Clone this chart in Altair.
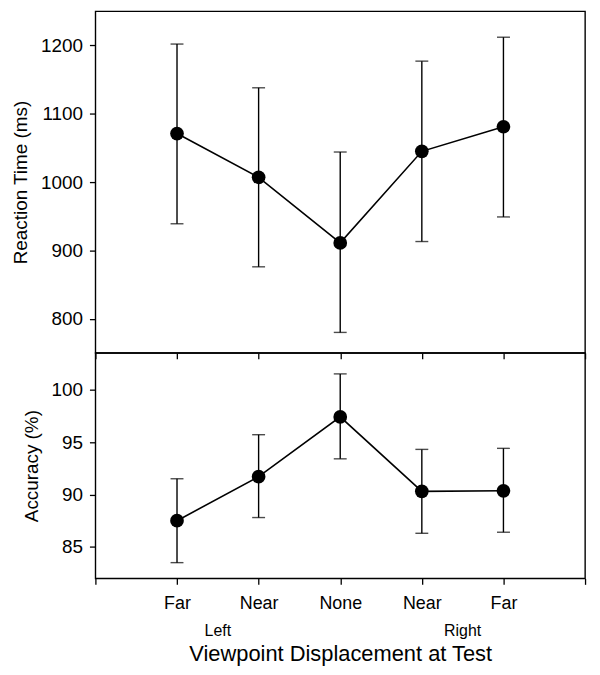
import altair as alt
import pandas as pd

positions = [1, 2, 3, 4, 5]
labels = ["Far", "Near", "None", "Near", "Far"]

rt_mean = [1071, 1007, 911, 1045, 1081]
rt_upper = [1202, 1138, 1044, 1177, 1212]
rt_lower = [939, 876, 780, 913, 949]

acc_mean = [87.5, 91.7, 97.4, 90.3, 90.35]
acc_upper = [91.5, 95.7, 101.5, 94.3, 94.4]
acc_lower = [83.5, 87.8, 93.4, 86.3, 86.4]

side_pos = [1.5, 4.5]
side_text = ["Left", "Right"]

FONT = "Liberation Sans"

rt = pd.DataFrame({"x": positions, "m": rt_mean, "hi": rt_upper, "lo": rt_lower})
acc = pd.DataFrame({"x": positions, "m": acc_mean, "hi": acc_upper, "lo": acc_lower})
sides = pd.DataFrame({"x": side_pos, "t": side_text})

label_expr = ("datum.value == 1 ? 'Far' : datum.value == 2 ? 'Near' : "
              "datum.value == 3 ? 'None' : datum.value == 4 ? 'Near' : "
              "datum.value == 5 ? 'Far' : ''")

W = 493
H1 = 344
H2 = 227


def panel(df, ydom, yticks, ytitle, height, bottom):
    if bottom:
        xaxis = alt.Axis(values=list(range(7)), labelExpr=label_expr, tickSize=6,
                         labelPadding=10, labelFontSize=18, title="Viewpoint Displacement at Test",
                         titleFontSize=22, titleFontWeight="normal", titlePadding=32,
                         grid=False, domain=False, tickColor="black", labelColor="black",
                         titleColor="black", labelFont=FONT, titleFont=FONT, tickWidth=1.3)
    else:
        xaxis = alt.Axis(values=list(range(7)), labels=False, tickSize=6, title=None,
                         grid=False, domain=False, tickColor="black", tickWidth=1.3)
    x = alt.X("x:Q", scale=alt.Scale(domain=[0, 6], nice=False, zero=False), axis=xaxis)
    yscale = alt.Scale(domain=ydom, nice=False, zero=False)
    yaxis = alt.Axis(values=yticks, format="d", tickSize=6, labelPadding=7, labelFontSize=19,
                     title=ytitle, titleFontSize=19, titleFontWeight="normal",
                     titlePadding=10, grid=False, domain=False, tickColor="black",
                     labelColor="black", titleColor="black", labelFont=FONT,
                     titleFont=FONT, tickWidth=1.3)
    base = alt.Chart(df)
    rules = base.mark_rule(color="black", strokeWidth=1.4).encode(
        x=x, y=alt.Y("lo:Q", scale=yscale, axis=yaxis), y2="hi:Q")
    cap_hi = base.mark_tick(orient="horizontal", size=13, thickness=1.4, color="black").encode(
        x="x:Q", y="hi:Q")
    cap_lo = base.mark_tick(orient="horizontal", size=13, thickness=1.4, color="black").encode(
        x="x:Q", y="lo:Q")
    line = base.mark_line(color="black", strokeWidth=1.6).encode(x="x:Q", y="m:Q")
    pts = base.mark_point(filled=True, shape="circle", size=190, color="black", opacity=1).encode(
        x="x:Q", y="m:Q")
    layers = [rules, cap_hi, cap_lo, line, pts]
    if bottom:
        txt = alt.Chart(sides).mark_text(fontSize=16, font=FONT, color="black",
                                         baseline="middle").encode(
            x="x:Q", y=alt.value(height + 53), text="t:N")
        layers.append(txt)
    return alt.layer(*layers).properties(width=W, height=height)


top = panel(rt, [750, 1250], [800, 900, 1000, 1100, 1200], "Reaction Time (ms)", H1, False)
bot = panel(acc, [82, 103.5], [85, 90, 95, 100], "Accuracy (%)", H2, True)

chart = alt.vconcat(top, bot, spacing=0, bounds="flush").properties(
    padding={"left": 3, "top": 0, "right": 5, "bottom": 5},
    background="white"
).configure_view(stroke="black", strokeWidth=1.4)

chart.save("out.html", embed_options={"renderer": "svg", "actions": False})
